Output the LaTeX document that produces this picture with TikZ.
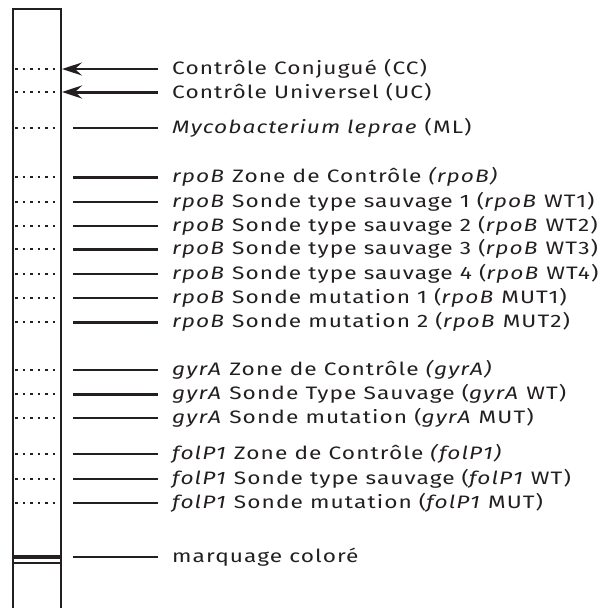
\documentclass[tikz,border=0pt]{standalone}
\usepackage{fontspec}
\setmainfont[FakeStretch=1.26,LetterSpace=6]{Fira Sans}
\usetikzlibrary{arrows.meta}
\definecolor{ink}{HTML}{231F20}
\tikzset{
  fin/.style={line width=2pt},
  gras/.style={line width=3pt},
  pointille/.style={line width=2.6pt,dash pattern=on 2.6pt off 4.9pt},
  pointe/.style={-{Stealth[length=20pt,width=13pt,inset=7pt]}},
  lab/.style={anchor=west,inner sep=0pt,font=\fontsize{18}{18}\selectfont}
}
\begin{document}
\begin{tikzpicture}[x=1pt,y=-1pt,color=ink]
\useasboundingbox (0,0) rectangle (601,608);
\def\xa{13}
\def\xb{61}
\def\xs{73}
\def\xe{158}
\def\xt{172}

% bandelette
\coordinate (BG) at (\xa,608);
\coordinate (HG) at (\xa,9);
\coordinate (HD) at (\xb,9);
\coordinate (BD) at (\xb,608);
\draw[line width=2.4pt] (BG) -- (HG) -- (HD) -- (BD);

% controles avec fleche
\foreach \n/\y/\w/\txt in {1/69/fin/{Contrôle Conjugué (CC)},2/92/gras/{Contrôle Universel (UC)}}
{
\coordinate (A\n) at (\xa+2,\y);
\coordinate (B\n) at (\xb,\y);
\coordinate (E\n) at (\xe,\y);
\coordinate (P\n) at (\xb+1,\y);
\draw[pointille] (A\n) -- (B\n);
\draw[\w,pointe] (E\n) -- (P\n);
\node[lab] (T\n) at (\xt,\y) {\txt};
}

% sondes
\foreach \n/\y/\w/\txt in {
3/128/fin/{\textit{Mycobacterium leprae} (ML)},
4/177/gras/{\textit{rpoB} Zone de Contrôle \textit{(rpoB)}},
5/202/fin/{\textit{rpoB} Sonde type sauvage 1 (\textit{rpoB} WT1)},
6/226/fin/{\textit{rpoB} Sonde type sauvage 2 (\textit{rpoB} WT2)},
7/249/gras/{\textit{rpoB} Sonde type sauvage 3 (\textit{rpoB} WT3)},
8/274/fin/{\textit{rpoB} Sonde type sauvage 4 (\textit{rpoB} WT4)},
9/298/fin/{\textit{rpoB} Sonde mutation 1 (\textit{rpoB} MUT1)},
10/322/gras/{\textit{rpoB} Sonde mutation 2 (\textit{rpoB} MUT2)},
11/370/fin/{\textit{gyrA} Zone de Contrôle \textit{(gyrA)}},
12/394/gras/{\textit{gyrA} Sonde Type Sauvage (\textit{gyrA} WT)},
13/418/fin/{\textit{gyrA} Sonde mutation (\textit{gyrA} MUT)},
14/454/fin/{\textit{folP1} Zone de Contrôle \textit{(folP1)}},
15/479/fin/{\textit{folP1} Sonde type sauvage (\textit{folP1} WT)},
16/503/fin/{\textit{folP1} Sonde mutation (\textit{folP1} MUT)}}
{
\coordinate (A\n) at (\xa+2,\y);
\coordinate (B\n) at (\xb,\y);
\coordinate (S\n) at (\xs,\y);
\coordinate (E\n) at (\xe,\y);
\draw[pointille] (A\n) -- (B\n);
\draw[\w] (S\n) -- (E\n);
\node[lab] (T\n) at (\xt,\y) {\txt};
}

% marquage colore
\coordinate (A17) at (\xa,557);
\coordinate (B17) at (\xb,557);
\coordinate (C17) at (\xa,563);
\coordinate (D17) at (\xb,563);
\coordinate (S17) at (\xs,557);
\coordinate (E17) at (\xe,557);
\draw[line width=3.2pt] (A17) -- (B17);
\draw[line width=2.2pt] (C17) -- (D17);
\draw[fin] (S17) -- (E17);
\node[lab] (T17) at (\xt,557) {marquage coloré};

\end{tikzpicture}
\end{document}
